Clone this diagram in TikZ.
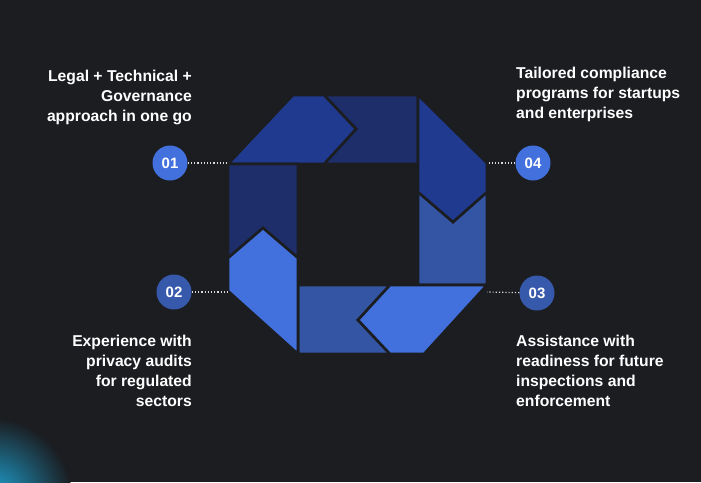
\documentclass[tikz,border=0pt]{standalone}
\usepackage{fontspec}
\setmainfont{Liberation Sans}
\begin{document}
\begin{tikzpicture}[x=1pt,y=-1pt,
  piece/.style={draw=bgc,line width=2.6pt,line join=miter},
  num/.style={circle,minimum size=35pt,inner sep=0pt,text=white,font=\bfseries\fontsize{15}{15}\selectfont},
  lbl/.style={text=white,font=\bfseries\fontsize{15.7}{20}\selectfont,inner sep=0pt},
  dots/.style={draw=white!85!black,dotted,line width=1.2pt}]
\definecolor{bgc}{HTML}{1B1D21}
\definecolor{cA}{HTML}{1F3A8F}
\definecolor{cB}{HTML}{1E2E6B}
\definecolor{cC}{HTML}{3455A4}
\definecolor{cD}{HTML}{4270DC}
\useasboundingbox (0,0) rectangle (701,482);
\fill[bgc] (0,0) rectangle (701,482);
\begin{scope}
\clip (0,0) rectangle (701,482);
\shade[inner color=cD!50!cyan!90!black, outer color=bgc] (-8,498) circle (80);
\end{scope}
% pieces
\filldraw[piece,fill=cB] (324,95) -- (418,95) -- (418,164) -- (324,164) -- (356,129) -- cycle;
\filldraw[piece,fill=cA] (293,95) -- (324,95) -- (356,129) -- (324,164) -- (228,164) -- cycle;
\filldraw[piece,fill=cC] (418,192) -- (453,222) -- (487,192) -- (487,285) -- (418,285) -- cycle;
\filldraw[piece,fill=cA] (418,95) -- (487,163) -- (487,192) -- (453,222) -- (418,192) -- cycle;
\filldraw[piece,fill=cC] (298,285) -- (390,285) -- (358,320) -- (390,354) -- (298,354) -- cycle;
\filldraw[piece,fill=cD] (390,285) -- (487,285) -- (424,354) -- (390,354) -- (358,320) -- cycle;
\filldraw[piece,fill=cB] (228,164) -- (298,164) -- (298,258) -- (263,228) -- (228,258) -- cycle;
\filldraw[piece,fill=cD] (228,258) -- (263,228) -- (298,258) -- (298,354) -- (228,291) -- cycle;
\coordinate (p1) at (229,163);
\coordinate (p2) at (229,292);
\coordinate (p3) at (487,292);
\coordinate (p4) at (487,163);
\node[num,fill=cD] (n1) at (170,163) {01};
\node[num,fill=cC!85!cD] (n2) at (174,292) {02};
\node[num,fill=cC!85!cD] (n3) at (537,293) {03};
\node[num,fill=cD] (n4) at (533,163) {04};
\draw[dots] (n1) -- (p1);
\draw[dots] (n2) -- (p2);
\draw[dots] (n3) -- (p3);
\draw[dots] (n4) -- (p4);
\node[lbl,align=right,anchor=north east] (t1) at (192,70) {Legal + Technical +\\Governance\\approach in one go};
\node[lbl,align=right,anchor=north east] (t2) at (192,335) {Experience with\\privacy audits\\for regulated\\sectors};
\node[lbl,align=left,anchor=north west] (t3) at (516,335) {Assistance with\\readiness for future\\inspections and\\enforcement};
\node[lbl,align=left,anchor=north west] (t4) at (516,67) {Tailored compliance\\programs for startups\\and enterprises};
\end{tikzpicture}
\end{document}
